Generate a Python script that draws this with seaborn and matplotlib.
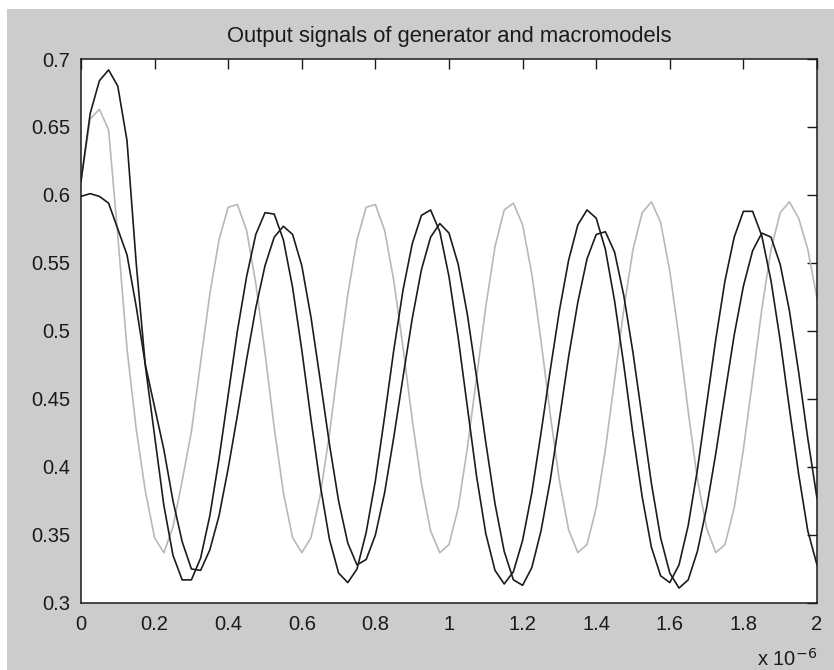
import numpy as np
import pandas as pd
import seaborn as sns
import matplotlib
matplotlib.use("Agg")
import matplotlib.pyplot as plt
from matplotlib.patches import Rectangle

# sample instants, in units of 1e-6 s
time_us = np.linspace(0, 2, 81)

generator = [
    0.611, 0.656, 0.663, 0.648, 0.570, 0.487, 0.428, 0.382, 0.348, 0.337,
    0.356, 0.390, 0.426, 0.477, 0.527, 0.567, 0.591, 0.593, 0.574, 0.535,
    0.484, 0.429, 0.381, 0.348, 0.337, 0.348, 0.379, 0.424, 0.477, 0.527,
    0.567, 0.591, 0.593, 0.574, 0.537, 0.488, 0.435, 0.388, 0.353, 0.337,
    0.343, 0.370, 0.414, 0.466, 0.518, 0.562, 0.589, 0.594, 0.578, 0.542,
    0.493, 0.439, 0.390, 0.354, 0.337, 0.343, 0.370, 0.413, 0.464, 0.516,
    0.560, 0.587, 0.595, 0.580, 0.544, 0.495, 0.441, 0.391, 0.355, 0.337,
    0.343, 0.370, 0.413, 0.464, 0.516, 0.560, 0.587, 0.595, 0.583, 0.560,
    0.524,
]

macromodel_a = [
    0.610, 0.660, 0.684, 0.692, 0.680, 0.640, 0.550, 0.474, 0.423, 0.372,
    0.335, 0.317, 0.317, 0.333, 0.364, 0.406, 0.453, 0.500, 0.540, 0.571,
    0.587, 0.586, 0.567, 0.532, 0.486, 0.435, 0.387, 0.347, 0.322, 0.315,
    0.325, 0.352, 0.390, 0.437, 0.486, 0.530, 0.564, 0.585, 0.589, 0.573,
    0.540, 0.495, 0.444, 0.393, 0.351, 0.324, 0.314, 0.323, 0.346, 0.381,
    0.425, 0.471, 0.515, 0.552, 0.578, 0.589, 0.583, 0.560, 0.522, 0.475,
    0.424, 0.378, 0.341, 0.320, 0.315, 0.328, 0.357, 0.398, 0.446, 0.494,
    0.537, 0.569, 0.588, 0.588, 0.570, 0.537, 0.493, 0.443, 0.395, 0.353,
    0.328,
]

macromodel_b = [
    0.599, 0.601, 0.599, 0.594, 0.575, 0.556, 0.518, 0.475, 0.444, 0.413,
    0.375, 0.345, 0.325, 0.324, 0.339, 0.364, 0.399, 0.438, 0.479, 0.517,
    0.548, 0.569, 0.577, 0.571, 0.548, 0.510, 0.464, 0.417, 0.375, 0.344,
    0.328, 0.332, 0.350, 0.381, 0.422, 0.466, 0.509, 0.545, 0.569, 0.579,
    0.572, 0.549, 0.512, 0.466, 0.418, 0.373, 0.338, 0.317, 0.313, 0.326,
    0.353, 0.390, 0.435, 0.481, 0.521, 0.553, 0.571, 0.573, 0.558, 0.526,
    0.484, 0.436, 0.388, 0.348, 0.322, 0.311, 0.317, 0.338, 0.370, 0.410,
    0.454, 0.497, 0.533, 0.559, 0.572, 0.569, 0.549, 0.515, 0.470, 0.421,
    0.377,
]

x_ticks = [0, 0.2, 0.4, 0.6, 0.8, 1, 1.2, 1.4, 1.6, 1.8, 2]
x_labels = ["0", "0.2", "0.4", "0.6", "0.8", "1", "1.2", "1.4", "1.6", "1.8", "2"]
y_ticks = [0.3, 0.35, 0.4, 0.45, 0.5, 0.55, 0.6, 0.65, 0.7]
y_labels = ["0.3", "0.35", "0.4", "0.45", "0.5", "0.55", "0.6", "0.65", "0.7"]

df = pd.concat([
    pd.DataFrame({"t": time_us, "v": generator, "signal": "generator"}),
    pd.DataFrame({"t": time_us, "v": macromodel_a, "signal": "macromodel A"}),
    pd.DataFrame({"t": time_us, "v": macromodel_b, "signal": "macromodel B"}),
])

sns.set_style("white")
plt.rcParams["font.family"] = ["Liberation Sans", "DejaVu Sans"]

fig = plt.figure(figsize=(8.34, 6.7), dpi=100, facecolor="white")
# grey MATLAB-like figure panel, with a thin white margin top-left
fig.patches.append(Rectangle((7 / 834, 0), 1, 661 / 670, transform=fig.transFigure,
                             facecolor="#cccccc", edgecolor="none", zorder=-10))

ax = fig.add_axes([81 / 834, 1 - 603 / 670, 736 / 834, 544 / 670])
ax.set_facecolor("white")

palette = {"generator": "#b8b8b8", "macromodel A": "#1c1c1c", "macromodel B": "#1c1c1c"}
sns.lineplot(data=df, x="t", y="v", hue="signal", palette=palette,
             linewidth=1.2, legend=False, ax=ax, sort=False)

ax.set_xlim(0, 2)
ax.set_ylim(0.3, 0.7)
ax.set_xticks(x_ticks)
ax.set_xticklabels(x_labels)
ax.set_yticks(y_ticks)
ax.set_yticklabels(y_labels)
ax.set_xlabel("")
ax.set_ylabel("")
ax.tick_params(direction="in", top=True, right=True, length=7, width=1,
               labelsize=14.5, colors="#1a1a1a", pad=8)
ax.tick_params(axis="x", pad=9)
for side in ax.spines.values():
    side.set_visible(True)
    side.set_color("#1a1a1a")
    side.set_linewidth(1.1)

ax.set_title("Output signals of generator and macromodels", fontsize=15.8,
             color="#1a1a1a", pad=12)
fig.text(817 / 834, 4 / 670, "x 10$^{-6}$", ha="right", va="baseline",
         fontsize=14.5, color="#1a1a1a")

fig.savefig("out.png", dpi=100, facecolor=fig.get_facecolor())
